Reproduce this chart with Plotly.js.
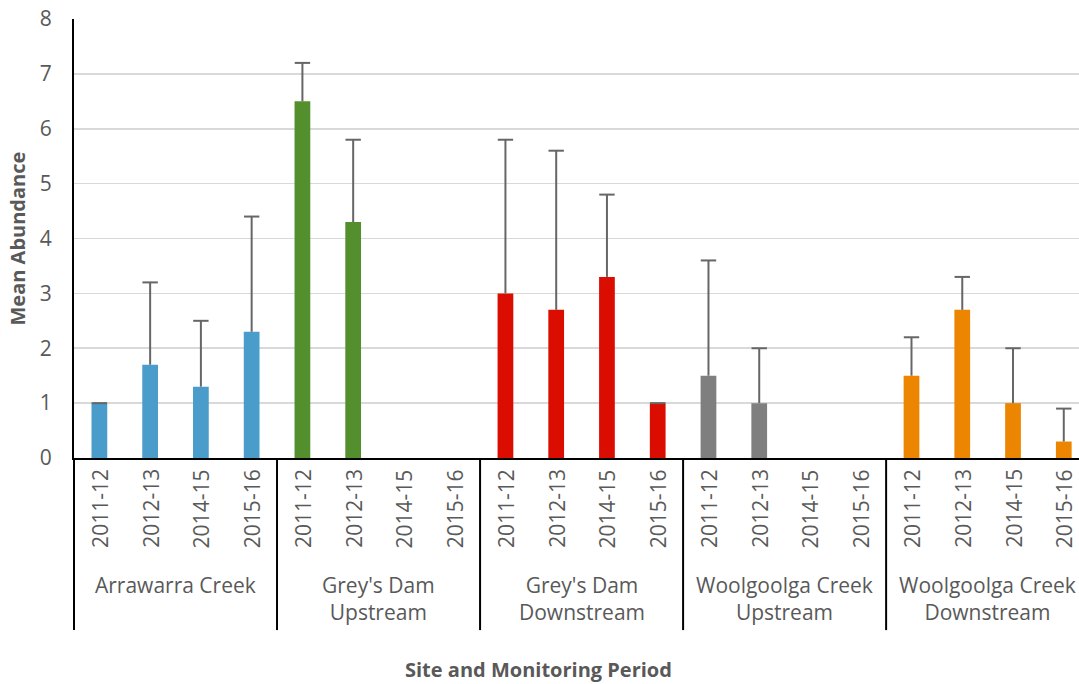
<!DOCTYPE html>
<html>
<head>
<meta charset="utf-8">
<script src="https://cdn.plot.ly/plotly-3.0.1.min.js"></script>
<style>html,body{margin:0;padding:0;background:#fff;}#chart{width:1079px;height:684px;}</style>
</head>
<body>
<div id="chart"></div>
<script>
// ---- data ----
var periods = ["2011-12", "2012-13", "2014-15", "2015-16"];
var siteLabels = ["Arrawarra Creek", "Grey's Dam<br>Upstream", "Grey's Dam<br>Downstream", "Woolgoolga Creek<br>Upstream", "Woolgoolga Creek<br>Downstream"];
var siteColors = ["#4A9CCB", "#548F2E", "#DB0C00", "#7F7F7F", "#EC8500"];

var arrawarraMean = [1.0, 1.7, 1.3, 2.3];
var arrawarraErr  = [0.0, 1.5, 1.2, 2.1];
var greysUpMean   = [6.5, 4.3, 0, 0];
var greysUpErr    = [0.7, 1.5, 0, 0];
var greysDownMean = [3.0, 2.7, 3.3, 1.0];
var greysDownErr  = [2.8, 2.9, 1.5, 0.0];
var woolUpMean    = [1.5, 1.0, 0, 0];
var woolUpErr     = [2.1, 1.0, 0, 0];
var woolDownMean  = [1.5, 2.7, 1.0, 0.3];
var woolDownErr   = [0.7, 0.6, 1.0, 0.6];

var means = [arrawarraMean, greysUpMean, greysDownMean, woolUpMean, woolDownMean];
var errs  = [arrawarraErr, greysUpErr, greysDownErr, woolUpErr, woolDownErr];

// ---- build ----
var nPer = periods.length;
var xRange = [-0.5, 19.30];
function toPaper(xd) { return (xd - xRange[0]) / (xRange[1] - xRange[0]); }

var font = "Open Sans, sans-serif";
var txtColor = "#595959";
var traces = [];
var stemX = [], stemY = [], capX = [], capY = [];
var annotations = [];
var shapes = [];

means.forEach(function (m, i) {
  var xs = m.map(function (_, j) { return i * nPer + j; });
  traces.push({
    type: "bar", x: xs, y: m, width: 0.31,
    marker: { color: siteColors[i] }, hoverinfo: "skip", showlegend: false
  });
  m.forEach(function (v, j) {
    var k = i * nPer + j, top = v + errs[i][j];
    if (v > 0) {
      stemX.push(k, k, null); stemY.push(v, top, null);
      capX.push(k); capY.push(top);
    }
    annotations.push({
      x: k, xref: "x", y: 0, yref: "paper", yshift: -9, yanchor: "top", xanchor: "center",
      textangle: -90, text: periods[j], showarrow: false,
      font: { family: font, size: 21, color: txtColor }
    });
  });
  annotations.push({
    x: i * nPer + (nPer - 1) / 2, xref: "x", y: 0, yref: "paper", yshift: -111, yanchor: "top",
    xanchor: "center", text: siteLabels[i], showarrow: false,
    font: { family: font, size: 21, color: txtColor }
  });
});

for (var g = 0; g <= means.length; g++) {
  var px = toPaper(g * nPer - 0.5);
  if (px > 1.0001) continue;
  shapes.push({
    type: "line", xref: "paper", yref: "paper", x0: px, x1: px, y0: 0, y1: -0.392,
    line: { color: "#000", width: 2 }
  });
}

traces.push({
  type: "scatter", mode: "lines", x: stemX, y: stemY,
  line: { color: "#666666", width: 2 }, hoverinfo: "skip", showlegend: false, cliponaxis: false
});
traces.push({
  type: "scatter", mode: "markers", x: capX, y: capY,
  marker: { symbol: "line-ew", size: 11, line: { color: "#666666", width: 2 } },
  hoverinfo: "skip", showlegend: false, cliponaxis: false
});

annotations.push({
  x: -(74 - 17) / 1005, xref: "paper", y: 0.5, yref: "paper", textangle: -90,
  xanchor: "center", yanchor: "middle", text: "<b>Mean Abundance</b>", showarrow: false,
  font: { family: font, size: 20, color: txtColor }
});
annotations.push({
  x: (538 - 74) / 1005, xref: "paper", y: 0, yref: "paper", yshift: -211, yanchor: "middle",
  xanchor: "center", text: "<b>Site and Monitoring Period</b>", showarrow: false,
  font: { family: font, size: 20, color: txtColor }
});

var layout = {
  width: 1079, height: 684,
  margin: { l: 74, r: 0, t: 19, b: 226, pad: 0 },
  paper_bgcolor: "#fff", plot_bgcolor: "#fff",
  barmode: "overlay", showlegend: false, hovermode: false,
  xaxis: {
    range: xRange, showticklabels: false, showgrid: false, zeroline: false,
    showline: true, linecolor: "#000", linewidth: 2, ticks: "", fixedrange: true
  },
  yaxis: {
    range: [0, 8], dtick: 1, showgrid: true, gridcolor: "#D9D9D9", gridwidth: 1.6,
    zeroline: false, showline: true, linecolor: "#000", linewidth: 2, ticks: "",
    ticklabelstandoff: 16,
    tickfont: { family: font, size: 21, color: txtColor }, fixedrange: true
  },
  annotations: annotations,
  shapes: shapes
};

Plotly.newPlot("chart", traces, layout, { displayModeBar: false, staticPlot: true });
</script>
</body>
</html>
